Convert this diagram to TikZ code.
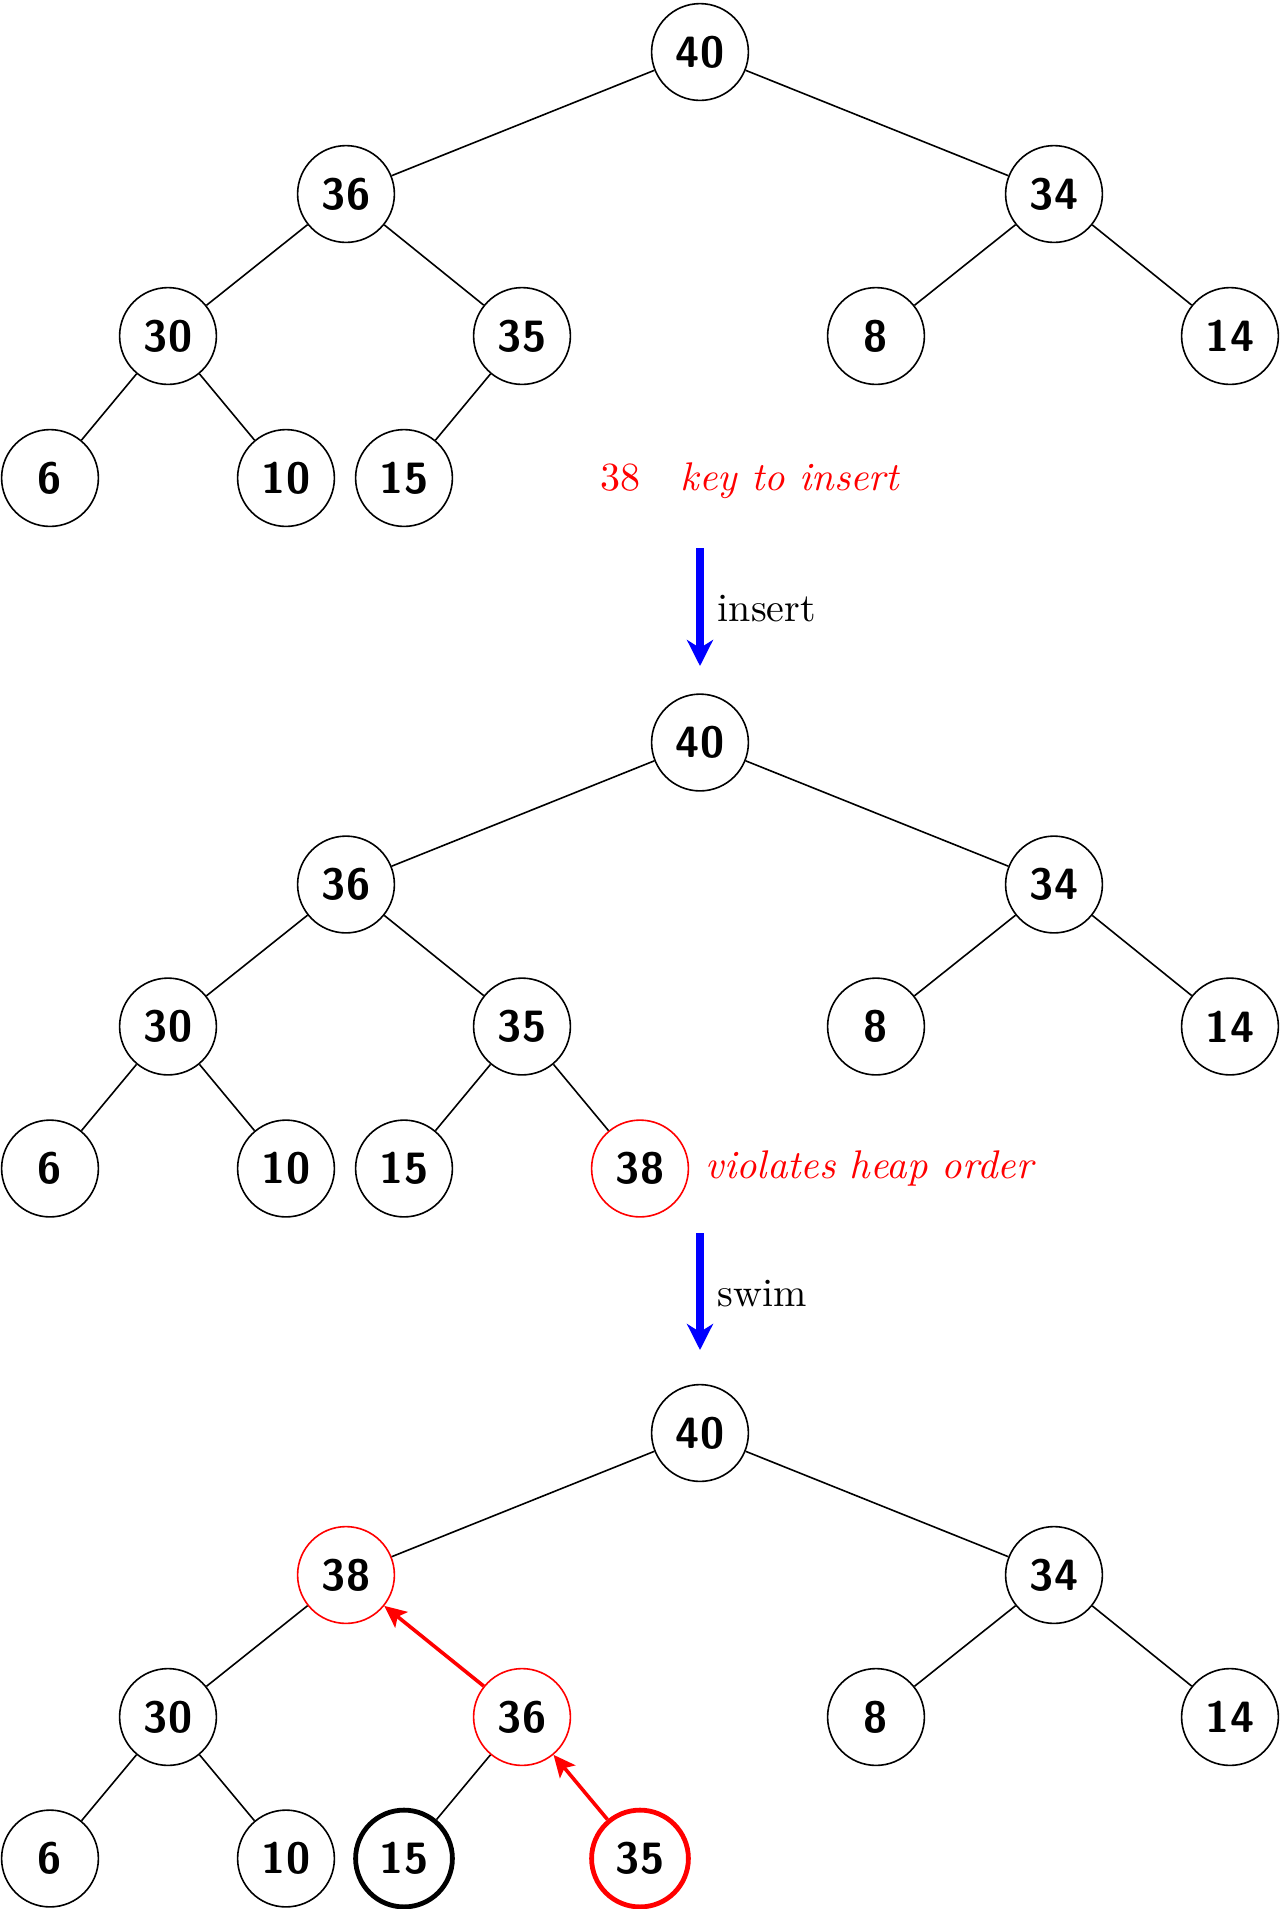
\documentclass[tikz,border=0pt]{standalone}
\usetikzlibrary{arrows.meta}
\begin{document}
\begin{tikzpicture}[x=0.25pt,y=-0.25pt,
  key/.style={circle,draw,line width=0.4pt,minimum size=24.2pt,inner sep=0pt,
    font=\sffamily\bfseries\fontsize{10.95}{13}\selectfont},
  hot/.style={key,draw=red},
  hotbold/.style={key,draw=red,line width=1.2pt},
  bold/.style={key,line width=1.2pt},
  edge/.style={line width=0.4pt},
  stepArrow/.style={line width=2pt,blue,-{Stealth[length=6.5pt,width=6.5pt,inset=2pt]}},
  swimArrow/.style={line width=0.9pt,red,-{Stealth[length=5.5pt,width=5pt,inset=1.2pt]}},
  lbl/.style={inner sep=0pt,anchor=base west}]
\useasboundingbox (0,0) rectangle (1284,1909);

% ---------- tree 1 ----------
\node[key] (a40) at (700,52) {40};
\node[key] (a36) at (346,194) {36};
\node[key] (a34) at (1054,194) {34};
\node[key] (a30) at (168,336) {30};
\node[key] (a35) at (522,336) {35};
\node[key] (a8)  at (876,336) {8};
\node[key] (a14) at (1230,336) {14};
\node[key] (a6)  at (50,478) {6};
\node[key] (a10) at (286,478) {10};
\node[key] (a15) at (404,478) {15};
\draw[edge] (a40)--(a36) (a40)--(a34) (a36)--(a30) (a36)--(a35) (a34)--(a8) (a34)--(a14)
  (a30)--(a6) (a30)--(a10) (a35)--(a15);
\node[lbl,text=red] (keytxt) at (600,490) {38\quad\textit{key to insert}};

% ---------- arrow 1 ----------
\coordinate (i1) at (700,548);
\coordinate (i2) at (700,666);
\draw[stepArrow] (i1)--(i2);
\node[lbl] (instxt) at (717,621) {insert};

% ---------- tree 2 ----------
\node[key] (b40) at (700,742.5) {40};
\node[key] (b36) at (346,884.5) {36};
\node[key] (b34) at (1054,884.5) {34};
\node[key] (b30) at (168,1026.5) {30};
\node[key] (b35) at (522,1026.5) {35};
\node[key] (b8)  at (876,1026.5) {8};
\node[key] (b14) at (1230,1026.5) {14};
\node[key] (b6)  at (50,1168.5) {6};
\node[key] (b10) at (286,1168.5) {10};
\node[key] (b15) at (404,1168.5) {15};
\node[hot] (b38) at (640,1168.5) {38};
\draw[edge] (b40)--(b36) (b40)--(b34) (b36)--(b30) (b36)--(b35) (b34)--(b8) (b34)--(b14)
  (b30)--(b6) (b30)--(b10) (b35)--(b15) (b35)--(b38);
\node[lbl,text=red] (viotxt) at (705,1178) {\textit{violates heap order}};

% ---------- arrow 2 ----------
\coordinate (s1) at (700,1233);
\coordinate (s2) at (700,1350);
\draw[stepArrow] (s1)--(s2);
\node[lbl] (swimtxt) at (717,1306) {swim};

% ---------- tree 3 ----------
\node[key] (c40) at (700,1433) {40};
\node[hot] (c38) at (346,1575) {38};
\node[key] (c34) at (1054,1575) {34};
\node[key] (c30) at (168,1717) {30};
\node[hot] (c36) at (522,1717) {36};
\node[key] (c8)  at (876,1717) {8};
\node[key] (c14) at (1230,1717) {14};
\node[key] (c6)  at (50,1858.5) {6};
\node[key] (c10) at (286,1858.5) {10};
\node[bold] (c15) at (404,1858.5) {15};
\node[hotbold] (c35) at (640,1858.5) {35};
\draw[edge] (c40)--(c38) (c40)--(c34) (c38)--(c30) (c34)--(c8) (c34)--(c14)
  (c30)--(c6) (c30)--(c10) (c36)--(c15);
\draw[swimArrow] (c36)--(c38);
\draw[swimArrow] (c35)--(c36);
\end{tikzpicture}
\end{document}
